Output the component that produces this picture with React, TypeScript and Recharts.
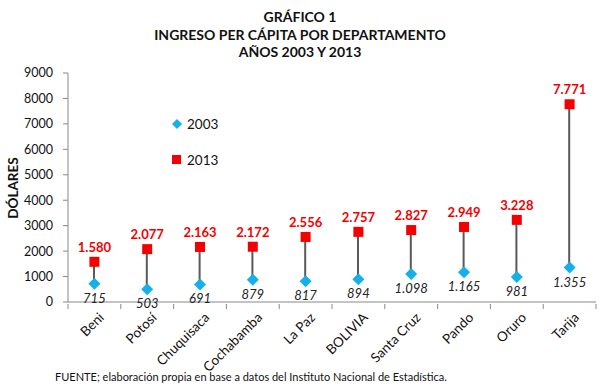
import React from "react";
import {
  ComposedChart,
  Bar,
  Line,
  XAxis,
  YAxis,
  LabelList,
} from "recharts";

document.body.style.margin = "0";

const departamentos = [
  "Beni",
  "Potosí",
  "Chuquisaca",
  "Cochabamba",
  "La Paz",
  "BOLIVIA",
  "Santa Cruz",
  "Pando",
  "Oruro",
  "Tarija",
];
const ingreso2003 = [715, 503, 691, 879, 817, 894, 1098, 1165, 981, 1355];
const ingreso2013 = [1580, 2077, 2163, 2172, 2556, 2757, 2827, 2949, 3228, 7771];
const yTicks = [0, 1000, 2000, 3000, 4000, 5000, 6000, 7000, 8000, 9000];

const data = departamentos.map((name, i) => ({
  name,
  y2003: ingreso2003[i],
  y2013: ingreso2013[i],
  range: [ingreso2003[i], ingreso2013[i]],
}));

const FONT = "Lato, 'Open Sans', sans-serif";
const BLUE = "#14b0ea";
const RED = "#f40000";

const W = 600;
const H = 390;
const X_AXIS_H = 30;
const M = { top: 73, right: 4, bottom: 88 - X_AXIS_H, left: 18 };
const Y_AXIS_W = 50;
const band = (W - M.left - Y_AXIS_W - M.right) / departamentos.length;

const fmt = (n: number) => String(n).replace(/\B(?=(\d{3})+(?!\d))/g, ".");

const Diamond = (props: any) => {
  const { cx, cy } = props;
  if (cx == null || cy == null) return null;
  const r = 6;
  return (
    <path
      d={`M${cx},${cy - r}L${cx + r},${cy}L${cx},${cy + r}L${cx - r},${cy}Z`}
      fill={BLUE}
    />
  );
};

const Square = (props: any) => {
  const { cx, cy } = props;
  if (cx == null || cy == null) return null;
  return <rect x={cx - 5} y={cy - 5} width={10} height={10} fill={RED} />;
};

const TopLabel = (props: any) => {
  const { x, y, value } = props;
  return (
    <text
      x={x}
      y={y - 10}
      textAnchor="middle"
      fill={RED}
      fontSize={13}
      fontWeight="bold"
      fontFamily={FONT}
    >
      {fmt(value)}
    </text>
  );
};

const BottomLabel = (props: any) => {
  const { x, y, value } = props;
  return (
    <text
      x={x}
      y={y + 19}
      textAnchor="middle"
      fill="#222"
      fontSize={13}
      fontStyle="italic"
      fontFamily={FONT}
    >
      {fmt(value)}
    </text>
  );
};

const XTick = (props: any) => {
  const { x, y, payload, index } = props;
  const tx = x + 3;
  const ty = y + 7;
  return (
    <g>
      <line x1={x - band / 2} y1={y} x2={x - band / 2} y2={y + 5} stroke="#888" />
      {index === departamentos.length - 1 && (
        <line x1={x + band / 2} y1={y} x2={x + band / 2} y2={y + 5} stroke="#888" />
      )}
      <text
        x={tx}
        y={ty}
        textAnchor="end"
        dominantBaseline="hanging"
        fontSize={13.5}
        fill="#111"
        fontFamily={FONT}
        transform={`rotate(-45 ${tx} ${ty})`}
      >
        {payload.value}
      </text>
    </g>
  );
};

export default function App() {
  return (
    <div style={{ position: "relative", width: W, height: H, background: "#fff", fontFamily: FONT }}>
      <div
        style={{
          position: "absolute",
          top: 8,
          left: 0,
          width: W,
          textAlign: "center",
          fontWeight: "bold",
          fontSize: 14,
          lineHeight: "17.5px",
          color: "#111",
        }}
      >
        <div>GRÁFICO 1</div>
        <div>INGRESO PER CÁPITA POR DEPARTAMENTO</div>
        <div>AÑOS 2003 Y 2013</div>
      </div>
      <ComposedChart width={W} height={H} data={data} margin={M}>
        <XAxis
          dataKey="name"
          interval={0}
          height={X_AXIS_H}
          tickLine={false}
          tickSize={0}
          axisLine={{ stroke: "#888" }}
          tick={<XTick />}
        />
        <YAxis
          width={Y_AXIS_W}
          domain={[0, 9000]}
          ticks={yTicks}
          interval={0}
          axisLine={{ stroke: "#888" }}
          tickLine={{ stroke: "#888" }}
          tickSize={5}
          tickMargin={10}
          tick={{ fontSize: 12.5, fill: "#111", fontFamily: FONT }}
        />
        <Bar dataKey="range" barSize={2} fill="#595959" isAnimationActive={false} />
        <Line
          dataKey="y2003"
          stroke="none"
          dot={<Diamond />}
          activeDot={false}
          isAnimationActive={false}
        >
          <LabelList dataKey="y2003" content={<BottomLabel />} />
        </Line>
        <Line
          dataKey="y2013"
          stroke="none"
          dot={<Square />}
          activeDot={false}
          isAnimationActive={false}
        >
          <LabelList dataKey="y2013" content={<TopLabel />} />
        </Line>
      </ComposedChart>
      <svg
        width={30}
        height={120}
        style={{ position: "absolute", left: 0, top: 128 }}
      >
        <text
          x={18}
          y={60}
          textAnchor="middle"
          fontSize={13.5}
          fontWeight="bold"
          fill="#111"
          fontFamily={FONT}
          transform="rotate(-90 18 60)"
        >
          DÓLARES
        </text>
      </svg>
      <div style={{ position: "absolute", left: 171, top: 116, fontSize: 13.5, color: "#111" }}>
        <div style={{ display: "flex", alignItems: "center", height: 16 }}>
          <svg width={12} height={12} style={{ marginRight: 4 }}>
            <path d="M6,1L11,6L6,11L1,6Z" fill={BLUE} />
          </svg>
          2003
        </div>
        <div style={{ display: "flex", alignItems: "center", height: 16, marginTop: 20 }}>
          <svg width={12} height={12} style={{ marginRight: 4 }}>
            <rect x={1} y={1} width={9} height={9} fill={RED} />
          </svg>
          2013
        </div>
      </div>
      <div style={{ position: "absolute", left: 55, top: 370, fontSize: 11, color: "#111" }}>
        FUENTE; elaboración propia en base a datos del Instituto Nacional de Estadística.
      </div>
    </div>
  );
}
